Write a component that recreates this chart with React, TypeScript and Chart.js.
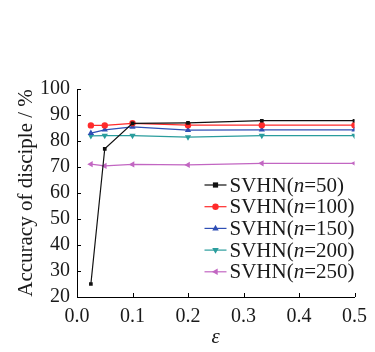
import React, { useEffect, useRef } from "react";
import { Chart, registerables } from "chart.js";

Chart.register(...registerables);

const epsilons = [0.025, 0.05, 0.1, 0.2, 0.333, 0.5];
const n50 = [25, 77, 86.8, 87.0, 87.8, 87.8];
const n100 = [86.0, 86.0, 86.8, 86.1, 86.1, 86.1];
const n150 = [83.0, 84.3, 85.4, 84.2, 84.3, 84.3];
const n200 = [82.0, 82.1, 82.1, 81.5, 82.1, 82.1];
const n250 = [71.1, 70.4, 71.0, 70.8, 71.4, 71.4];
const nLabels = ["50", "100", "150", "200", "250"];
const yTicks = { min: 20, max: 100, step: 10 };
const xTicks = { min: 0, max: 0.5, step: 0.1 };

const colors = ["#111111", "#ff2b2b", "#2f4fb5", "#2a9d9d", "#c266c2"];
const styles: any[] = ["rect", "circle", "triangle", "triangle", "triangle"];
const rotations = [0, 0, 0, 180, 270];
const radii = [2.6, 3.2, 3.6, 3.6, 3.6];

const FONT = "'Liberation Serif', 'Times New Roman', serif";

const insideTicks = {
  id: "insideTicks",
  afterDraw(chart: any) {
    const ctx = chart.ctx;
    const { left, bottom } = chart.chartArea;
    const xs = chart.scales.x;
    const ys = chart.scales.y;
    ctx.save();
    ctx.strokeStyle = "#000";
    ctx.lineWidth = 1;
    ctx.beginPath();
    ys.ticks.forEach((t: any) => {
      const y = Math.round(ys.getPixelForValue(t.value)) + 0.5;
      ctx.moveTo(left, y);
      ctx.lineTo(left + 4, y);
    });
    xs.ticks.forEach((t: any) => {
      const x = Math.round(xs.getPixelForValue(t.value)) + 0.5;
      ctx.moveTo(x, bottom);
      ctx.lineTo(x, bottom - 4);
    });
    ctx.stroke();
    ctx.restore();
  },
};

function drawMarker(ctx: any, style: string, r: number, rot: number, x: number, y: number) {
  ctx.save();
  ctx.translate(x, y);
  ctx.rotate((rot * Math.PI) / 180);
  ctx.beginPath();
  if (style === "rect") {
    ctx.rect(-r, -r, 2 * r, 2 * r);
  } else if (style === "circle") {
    ctx.arc(0, 0, r, 0, Math.PI * 2);
  } else {
    ctx.moveTo(0, -r);
    ctx.lineTo(r * 0.9, r * 0.6);
    ctx.lineTo(-r * 0.9, r * 0.6);
    ctx.closePath();
  }
  ctx.fill();
  ctx.restore();
}

const customLegend = {
  id: "customLegend",
  afterDraw(chart: any) {
    const ctx = chart.ctx;
    const { right, top } = chart.chartArea;
    const lineStart = right - 150;
    const lineEnd = right - 128;
    const textX = right - 125;
    const rowTop = top + 96;
    const rowGap = 21.7;
    ctx.save();
    chart.data.datasets.forEach((ds: any, i: number) => {
      const y = rowTop + i * rowGap;
      ctx.strokeStyle = ds.borderColor;
      ctx.lineWidth = 1.2;
      ctx.beginPath();
      ctx.moveTo(lineStart, y);
      ctx.lineTo(lineEnd, y);
      ctx.stroke();
      ctx.fillStyle = ds.borderColor;
      drawMarker(ctx, ds.pointStyle, ds.pointRadius, ds.pointRotation, (lineStart + lineEnd) / 2, y);
      ctx.fillStyle = "#1a1a1a";
      ctx.textBaseline = "middle";
      ctx.textAlign = "left";
      let x = textX;
      const parts = [
        { t: "SVHN(", italic: false },
        { t: "n", italic: true },
        { t: "=" + nLabels[i] + ")", italic: false },
      ];
      parts.forEach((p) => {
        ctx.font = (p.italic ? "italic " : "") + "21px " + FONT;
        ctx.fillText(p.t, x, y + 1);
        x += ctx.measureText(p.t).width;
      });
    });
    ctx.restore();
  },
};

export default function App() {
  const ref = useRef<HTMLCanvasElement | null>(null);
  useEffect(() => {
    if (!ref.current) return;
    const series = [n50, n100, n150, n200, n250];
    const chart = new Chart(ref.current, {
      type: "line",
      data: {
        datasets: series.map((vals, i) => ({
          label: "SVHN(n=" + nLabels[i] + ")",
          data: epsilons.map((e, j) => ({ x: e, y: vals[j] })),
          borderColor: colors[i],
          backgroundColor: colors[i],
          borderWidth: 1.2,
          pointStyle: styles[i],
          pointRadius: radii[i],
          pointRotation: rotations[i],
          pointBorderWidth: 0,
          pointBackgroundColor: colors[i],
          tension: 0,
        })),
      },
      options: {
        animation: false,
        responsive: false,
        layout: { padding: { top: 89, right: 18, left: 0, bottom: 0 } },
        plugins: { legend: { display: false }, tooltip: { enabled: false } },
        scales: {
          x: {
            type: "linear",
            min: xTicks.min,
            max: xTicks.max,
            afterFit: (s: any) => {
              s.height = 55;
            },
            ticks: {
              stepSize: xTicks.step,
              autoSkip: false,
              maxRotation: 0,
              color: "#1a1a1a",
              padding: 8,
              font: { family: FONT, size: 20 },
              callback: (v: any) => Number(v).toFixed(1),
            },
            grid: { display: false, drawTicks: false },
            border: { display: true, color: "#000", width: 1 },
            title: {
              display: true,
              text: "ε",
              color: "#1a1a1a",
              font: { family: FONT, size: 21, style: "italic" },
              padding: { top: 0, bottom: 2 },
            },
          },
          y: {
            type: "linear",
            min: yTicks.min,
            max: yTicks.max,
            afterFit: (s: any) => {
              s.width = 77;
            },
            ticks: {
              stepSize: yTicks.step,
              autoSkip: false,
              color: "#1a1a1a",
              padding: 7,
              font: { family: FONT, size: 20 },
            },
            grid: { display: false, drawTicks: false },
            border: { display: true, color: "#000", width: 1 },
            title: {
              display: true,
              text: "Accuracy of disciple / %",
              color: "#1a1a1a",
              font: { family: FONT, size: 21 },
              padding: { top: 14, bottom: 0 },
            },
          },
        },
      },
      plugins: [insideTicks, customLegend],
    });
    return () => chart.destroy();
  }, []);
  return (
    <div style={{ position: "absolute", left: 0, top: 0, width: 375, height: 352, background: "#fff" }}>
      <canvas ref={ref} width={375} height={352} style={{ width: 375, height: 352 }} />
    </div>
  );
}
